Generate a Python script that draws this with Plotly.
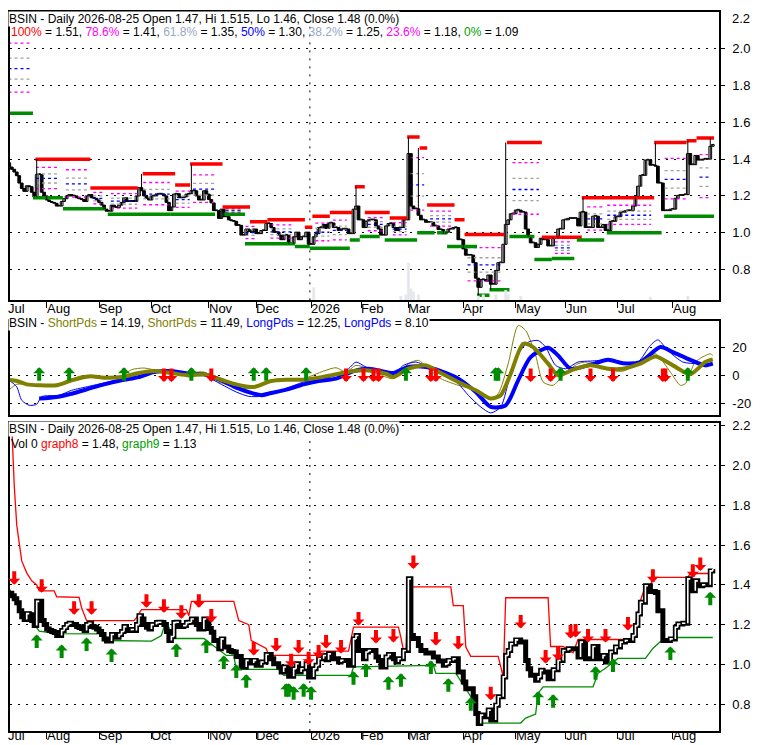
import plotly.graph_objects as go

# trading-day index: 0 = 2025-07-11 ... 282 = 2026-08-25
close = [
    # Jul
    1.357, 1.345, 1.33, 1.31, 1.27, 1.24, 1.225, 1.255, 1.25, 1.22, 1.195, 1.317, 1.317, 1.22, 1.2,
    # Aug
    1.178, 1.17, 1.165, 1.16, 1.145, 1.145, 1.17, 1.185, 1.2, 1.207, 1.2, 1.2, 1.19, 1.185, 1.18,
    1.17, 1.2, 1.207, 1.19, 1.187, 1.178,
    # Sep
    1.165, 1.15, 1.128, 1.117, 1.117, 1.15, 1.14, 1.137, 1.15, 1.165, 1.19, 1.17, 1.17, 1.175, 1.17,
    1.2, 1.245, 1.228, 1.2, 1.187, 1.178,
    # Oct
    1.2, 1.2, 1.21, 1.212, 1.21, 1.2, 1.165, 1.12, 1.14, 1.21, 1.212, 1.19, 1.19, 1.195, 1.21,
    1.212, 1.228, 1.228, 1.2, 1.178, 1.178, 1.228, 1.21,
    # Nov
    1.18, 1.162, 1.12, 1.12, 1.078, 1.128, 1.087, 1.087, 1.07, 1.065, 1.062, 1.04, 1.04, 0.987, 0.987,
    1.02, 1.007, 1.007, 1.02,
    # Dec
    0.995, 0.995, 1.012, 1.012, 1.05, 1.05, 1.028, 1.003, 1.003, 0.987, 0.962, 0.987, 0.987, 0.94, 0.94,
    0.978, 1.003, 0.962, 0.978, 0.978, 1.003, 0.937,
    # Jan
    0.937, 0.978, 0.995, 1.028, 1.028, 1.045, 1.023, 1.053, 1.053, 1.028, 1.028, 1.012, 1.02, 1.02, 1.02,
    0.995, 0.995, 1.128, 1.145, 1.07,
    # Feb
    1.07, 1.028, 1.062, 1.07, 1.07, 1.07, 1.037, 1.02, 0.987, 0.987, 1.037, 1.05, 1.05, 1.028, 1.012,
    1.028, 1.028, 1.07, 1.07,
    # Mar
    1.43, 1.145, 1.13, 1.13, 1.095, 1.07, 1.07, 1.057, 1.057, 1.057, 1.037, 1.037, 1.017, 1.017, 0.995,
    1.003, 1.02, 1.02, 1.028, 1.028, 0.962, 0.962,
    # Apr
    0.912, 0.878, 0.878, 0.878, 0.837, 0.753, 0.703, 0.745, 0.745, 0.737, 0.77, 0.72, 0.72, 0.795, 0.837,
    0.837, 0.937, 1.045, 1.07, 1.103, 1.103,
    # May
    1.123, 1.123, 1.112, 1.112, 1.02, 0.978, 0.945, 0.945, 0.92, 0.937, 0.97, 0.962, 0.962, 0.928, 0.928,
    0.973, 0.973, 1.02, 1.02, 1.07,
    # Jun
    1.07, 1.078, 1.078, 1.078, 1.078, 1.037, 1.112, 1.112, 1.028, 1.028, 1.028, 1.09, 1.09, 1.028, 1.028,
    1.045, 1.012, 1.012, 1.062, 1.062, 1.087,
    # Jul
    1.087, 1.112, 1.112, 1.12, 1.12, 1.12, 1.145, 1.195, 1.253, 1.312, 1.312, 1.395, 1.395, 1.367, 1.367,
    1.362, 1.27, 1.27, 1.12, 1.12, 1.12, 1.128,
    # Aug
    1.128, 1.187, 1.203, 1.203, 1.207, 1.207, 1.43, 1.37, 1.37, 1.42, 1.395, 1.395, 1.4, 1.4, 1.4,
    1.47, 1.48,
]
first_open = 1.38

hi_idx = [0, 11, 53, 73, 139, 160, 164, 199, 230, 259, 272, 281]
hi_val = [1.43, 1.40, 1.32, 1.373, 1.25, 1.52, 1.46, 1.49, 1.19, 1.49, 1.50, 1.515]
lo_idx = [188, 193]
lo_val = [0.66, 0.69]

vol_idx = [122, 157, 159, 160, 161, 162, 164, 188, 190, 195, 199, 200, 205, 257, 272]
vol_val = [4.5, 1.5, 2, 13, 4, 3, 2, 1.5, 2, 2, 3.5, 2, 1.5, 1.2, 1.5]

month_idx = [15, 36, 57, 80, 99, 121, 141, 160, 182, 203, 223, 244, 266]
month_lbl = ['Aug', 'Sep', 'Oct', 'Nov', 'Dec', '2026', 'Feb', 'Mar', 'Apr', 'May', 'Jun', 'Jul', 'Aug']
year_break = 120.5

# resistance (red) and support (green) segments of the top panel
res_x0 = [0, 11, 33, 54, 67, 73, 86, 97, 104, 119, 122, 129, 139, 143, 153, 160, 165, 168, 179, 183, 200, 214, 230, 259, 272, 276]
res_x1 = [1, 32, 51, 66, 72, 85, 96, 103, 118, 121, 128, 137, 142, 152, 159, 164, 167, 178, 182, 198, 213, 229, 258, 271, 275, 282]
res_lvl = [2.135, 1.40, 1.243, 1.32, 1.26, 1.373, 1.14, 1.06, 1.07, 1.03, 1.09, 1.11, 1.25, 1.11, 1.08, 1.52, 1.46, 1.15, 1.07, 0.99, 1.49, 0.975, 1.19, 1.49, 1.50, 1.515]
sup_x0 = [0, 10, 22, 40, 65, 86, 95, 115, 121, 137, 141, 151, 164, 172, 176, 188, 193, 201, 211, 218, 228, 240, 263]
sup_x1 = [9, 21, 38, 64, 82, 94, 114, 120, 136, 140, 148, 163, 170, 175, 187, 192, 200, 210, 217, 226, 238, 261, 282]
sup_lvl = [1.65, 1.19, 1.13, 1.10, 1.10, 1.10, 0.94, 0.925, 0.915, 0.96, 0.98, 0.96, 1.00, 1.00, 0.925, 0.66, 0.69, 0.98, 0.855, 0.86, 0.96, 1.00, 1.09]

fib_x0 = [0, 11, 23, 34, 41, 54, 67, 74, 87, 95, 105, 123, 130, 144, 154, 161, 169, 184, 202, 219, 232, 240, 263, 277]
fib_x1 = [8, 19, 32, 38, 51, 64, 72, 82, 93, 99, 114, 128, 135, 150, 159, 166, 177, 197, 212, 225, 238, 257, 271, 281]
fib_hi = [2.135, 1.40, 1.40, 1.243, 1.243, 1.32, 1.26, 1.373, 1.14, 1.06, 1.07, 1.09, 1.11, 1.11, 1.08, 1.52, 1.15, 0.99, 1.49, 0.975, 1.19, 1.19, 1.49, 1.515]
fib_lo = [1.65, 1.19, 1.13, 1.13, 1.10, 1.10, 1.10, 1.10, 1.10, 0.94, 0.94, 0.915, 0.915, 0.98, 0.96, 1.00, 1.00, 0.66, 0.98, 0.86, 0.96, 1.00, 1.09, 1.09]
fib_ratio = [0.786, 0.618, 0.5, 0.382, 0.236]
fib_color = ['#ff00ff', '#a0a0a0', '#0000ff', '#a0a0a0', '#ff00ff']

# oscillator panel
sh_thin_x = [0, 3, 7, 15, 23, 28, 32, 38, 45, 49, 54, 60, 65, 69, 78, 84, 91, 97, 103, 111, 118, 126, 131, 135, 139, 144, 151, 154, 160, 164,
             168, 173, 180, 187, 193, 196, 200, 204, 207, 211, 214, 218, 222, 228, 233, 238, 246, 254, 259, 265, 269, 271, 275, 281, 282]
sh_thin_y = [-10, -6.2, -6.2, -6.9, -5.2, -0.5, 0.2, -2.1, -0.5, 4.3, 5.5, 3.3, 1, 1, 2.6, -4.5, -8.1, -9.3, -5.2, -3.3, -2.1, 3.3, 5.7, 2.6, 7.4, 5, -1, -2.1, 8.6, 11,
             5, -2.1, -6.9, -10.5, -16.4, -12.9, 8.6, 36, 32.4, 14.5, -4.5, -6.9, 0.2, 8.6, 9.8, 5, 3.3, 11, 15.7, 2.6, -6.9, -5.7, 9.8, 15.7, 14.5]
sh_thick_x = [0, 3, 7, 12, 19, 25, 32, 38, 45, 52, 58, 65, 72, 78, 85, 91, 98, 105, 111, 118, 124, 131, 138, 144, 151, 154, 160, 167, 173, 180,
              187, 193, 197, 201, 206, 210, 216, 220, 226, 233, 240, 246, 253, 259, 266, 273, 279, 282]
sh_thick_y = [-3, -3.8, -6.2, -6.9, -6.9, -3.3, -0.5, -1.4, -1, 1.9, 3.3, 1.9, 0.2, 1, -2.9, -6.2, -8.1, -3.8, -2.9, -2.9, -1.4, 1, 3.3, 3.8, 1.4, -1, 5, 7.4, 1.9, -4.5,
              -10.5, -16.4, -14, 1.4, 22.9, 20.5, 8.6, 0.2, 4.3, 7.4, 5, 5, 8.6, 13.8, 7.4, 1, 9.8, 11.7]
lg_thin_x = [0, 3, 5, 8, 11, 13, 20, 25, 32, 38, 45, 52, 58, 65, 72, 78, 85, 91, 96, 101, 105, 111, 118, 124, 131, 136, 139, 143, 150, 154,
             158, 163, 168, 174, 180, 184, 189, 193, 197, 201, 205, 208, 212, 215, 219, 223, 228, 233, 240, 246, 252, 257, 260, 264, 270, 276, 282]
lg_thin_y = [-3.3, -8, -17.6, -21.2, -20.5, -15, -14, -10.5, -7.6, -5.2, -2.4, 1, 3.3, 2.6, 1, 0.2, -6.2, -11.7, -14.8, -14.8, -12.9, -9.3, -4.5, -2.9, 0.2, 5, 9.8, 6.2, 2.6, 1,
             7.4, 9.8, 6.2, 1.4, -5.7, -14, -22.4, -26.7, -22.4, 1.4, 18.1, 24, 25.2, 20.5, 7.4, 5, 9.8, 10.5, 11, 8.6, 9.8, 21.7, 25.7, 18.1, 9.8, 8.6, 9]
lg_thick_x = [12, 19, 25, 32, 38, 45, 52, 58, 65, 72, 78, 85, 91, 98, 101, 105, 111, 118, 124, 131, 138, 144, 151, 154, 160, 167, 173, 180, 187, 193,
              199, 204, 209, 216, 220, 225, 233, 240, 246, 253, 261, 266, 273, 279, 282]
lg_thick_y = [-16.4, -15.2, -12.9, -9.3, -6.2, -3.3, -1, 2.6, 3.3, 1.4, 1, -3.3, -8.6, -12.9, -14, -12.4, -10, -6.2, -3.8, -2.1, 3.3, 5, 2.6, 1.9, 6.2, 6.2, 3.3, -2.1, -11.7, -22.4,
              -21.2, -3.3, 13.3, 20, 14.5, 5, 7.9, 11.4, 9, 9.8, 20.5, 16.9, 11.4, 7.4, 8.6]
mid_up_idx = [12, 24, 46, 73, 98, 103, 119, 159, 195, 196, 221, 272]
mid_dn_idx = [62, 65, 81, 135, 142, 146, 148, 169, 171, 209, 217, 233, 242, 262, 263]

# bottom panel trailing lines and signals
stop_x = [1, 2, 3, 5, 7, 9, 11, 12, 18, 19, 28, 29, 31, 50, 51, 53, 71, 72, 73, 90, 92, 96, 97, 103, 104, 124, 125, 136, 138, 156,
          157, 158, 159, 160, 177, 178, 182, 183, 185, 196, 198, 199, 216, 217, 222, 224, 226, 228, 249, 250, 252, 253, 255, 257, 258, 272,
          273, 281, 282]
stop_y = [2.2, 1.9, 1.7, 1.52, 1.46, 1.42, 1.40, 1.37, 1.37, 1.34, 1.337, 1.285, 1.22, 1.22, 1.235, 1.275, 1.275, 1.245, 1.317, 1.317, 1.22, 1.2, 1.12, 1.08, 1.045, 1.045, 1.067, 1.067, 1.187, 1.187,
          1.135, 1.07, 1.07, 1.39, 1.39, 1.295, 1.295, 1.087, 1.04, 1.04, 0.937, 1.335, 1.335, 1.09, 1.09, 1.075, 1.058, 1.125, 1.125, 1.14, 1.253, 1.32, 1.395, 1.395, 1.437, 1.437,
          1.457, 1.457, 1.48]
floor_x = [0, 3, 4, 9, 10, 12, 19, 37, 38, 57, 61, 62, 64, 65, 78, 87, 90, 91, 108, 110, 137, 138, 170, 171, 179, 183, 187, 189, 205, 207,
           211, 212, 214, 234, 236, 239, 244, 255, 258, 261, 264, 267, 282]
floor_y = [1.38, 1.31, 1.262, 1.262, 1.2, 1.167, 1.155, 1.153, 1.12, 1.117, 1.145, 1.187, 1.187, 1.13, 1.13, 1.045, 1.045, 0.975, 0.975, 0.945, 0.945, 0.987, 0.995, 0.955, 0.955, 0.88, 0.8, 0.705, 0.705, 0.73,
           0.75, 0.855, 0.887, 0.887, 0.955, 0.98, 1.03, 1.03, 1.08, 1.115, 1.123, 1.135, 1.135]
bot_dn_idx = [2, 13, 26, 33, 55, 62, 69, 76, 81, 98, 107, 113, 116, 120, 124, 127, 133, 140, 147, 154, 162, 171, 180, 193, 205, 215, 220, 225, 227, 232, 239, 248, 258, 274, 277]
bot_dn_val = [1.40, 1.36, 1.25, 1.25, 1.285, 1.26, 1.23, 1.285, 1.21, 1.045, 1.065, 0.985, 1.055, 0.995, 1.03, 1.08, 1.055, 1.195, 1.105, 1.11, 1.48, 1.095, 1.075, 0.82, 1.18, 1.005, 1.02, 1.13, 1.135, 1.11, 1.11, 1.17, 1.41, 1.435, 1.47]
bot_up_idx = [11, 21, 31, 41, 67, 79, 86, 91, 95, 111, 112, 114, 118, 121, 138, 143, 152, 157, 169, 176, 185, 189, 212, 218, 235, 242, 265, 281]
bot_up_val = [1.15, 1.10, 1.135, 1.08, 1.105, 1.125, 1.045, 1.0, 0.95, 0.905, 0.905, 0.89, 0.905, 0.89, 0.965, 1.005, 0.94, 0.955, 1.02, 0.93, 0.835, 0.66, 0.865, 0.85, 0.99, 1.03, 1.09, 1.365]

RED = '#ff0000'
GREEN = '#008c00'
OLIVE = '#808000'
BLUE = '#0000ff'
FONT = 'Liberation Sans, Arial, sans-serif'

# the page puts the figure 8px in from the window corner; positions below are window pixels
OFF = 8
PW, PH = 711.0, 723.0


def sx(p):
    return (p - OFF) / PW


def sy(q):
    return 1 - (q - OFF) / PH


n = len(close)
idx = list(range(n))
opens = [first_open] + close[:-1]
highs = [max(o, c) for o, c in zip(opens, close)]
lows = [min(o, c) for o, c in zip(opens, close)]
for i, v in zip(hi_idx, hi_val):
    highs[i] = v
for i, v in zip(lo_idx, lo_val):
    lows[i] = v

fig = go.Figure()

# faint volume
fig.add_trace(go.Bar(x=vol_idx, y=vol_val, width=1.0, marker_color='#e6e6e6',
                     xaxis='x', yaxis='y4', hoverinfo='skip'))

# fib levels
for r, col in zip(fib_ratio, fib_color):
    xs, ys = [], []
    for a, b, h, l in zip(fib_x0, fib_x1, fib_hi, fib_lo):
        lv = l + r * (h - l)
        xs += [a - 0.3, b + 0.3, None]
        ys += [lv, lv, None]
    fig.add_trace(go.Scatter(x=xs, y=ys, mode='lines', line=dict(color=col, width=1.3, dash='3px,3px'),
                             xaxis='x', yaxis='y', hoverinfo='skip'))

# support / resistance
for x0s, x1s, lv, col in [(res_x0, res_x1, res_lvl, RED), (sup_x0, sup_x1, sup_lvl, GREEN)]:
    xs, ys = [], []
    for a, b, v in zip(x0s, x1s, lv):
        xs += [a - 0.5, b + 0.5, None]
        ys += [v, v, None]
    fig.add_trace(go.Scatter(x=xs, y=ys, mode='lines', line=dict(color=col, width=3.5),
                             xaxis='x', yaxis='y', hoverinfo='skip'))

# candles
wx, wy = [], []
for i in idx:
    wx += [i, i, None]
    wy += [lows[i], highs[i], None]
fig.add_trace(go.Scatter(x=wx, y=wy, mode='lines', line=dict(color='black', width=1),
                         xaxis='x', yaxis='y', hoverinfo='skip'))
for up in (True, False):
    sel = [i for i in idx if (close[i] >= opens[i]) == up]
    fig.add_trace(go.Bar(
        x=sel,
        base=[min(opens[i], close[i]) for i in sel],
        y=[max(abs(close[i] - opens[i]), 0.004) for i in sel],
        width=1.1,
        marker=dict(color='white' if up else 'black', line=dict(color='black', width=1)),
        xaxis='x', yaxis='y', hoverinfo='skip'))

# oscillators
fig.add_trace(go.Scatter(x=sh_thin_x, y=sh_thin_y, mode='lines', line=dict(color=OLIVE, width=1, shape='spline', smoothing=0.7),
                         xaxis='x2', yaxis='y2', hoverinfo='skip'))
fig.add_trace(go.Scatter(x=lg_thin_x, y=lg_thin_y, mode='lines', line=dict(color=BLUE, width=1, shape='spline', smoothing=0.7),
                         xaxis='x2', yaxis='y2', hoverinfo='skip'))
fig.add_trace(go.Scatter(x=lg_thick_x, y=lg_thick_y, mode='lines', line=dict(color=BLUE, width=4, shape='spline', smoothing=0.7),
                         xaxis='x2', yaxis='y2', hoverinfo='skip'))
fig.add_trace(go.Scatter(x=sh_thick_x, y=sh_thick_y, mode='lines', line=dict(color=OLIVE, width=4, shape='spline', smoothing=0.7),
                         xaxis='x2', yaxis='y2', hoverinfo='skip'))

# bottom panel
fig.add_trace(go.Scatter(x=stop_x, y=stop_y, mode='lines', line=dict(color=RED, width=1.3),
                         xaxis='x3', yaxis='y3', hoverinfo='skip'))
fig.add_trace(go.Scatter(x=floor_x, y=floor_y, mode='lines', line=dict(color=GREEN, width=1.3),
                         xaxis='x3', yaxis='y3', hoverinfo='skip'))
fig.add_trace(go.Scatter(x=idx, y=close, mode='lines', line=dict(color='black', width=5, shape='hv'),
                         xaxis='x3', yaxis='y3', hoverinfo='skip'))
hx, hy = [], []
for i in range(1, n):
    if close[i] > close[i - 1]:
        hx += [i, i, min(i + 1, n - 1), None]
        hy += [close[i - 1], close[i], close[i], None]
fig.add_trace(go.Scatter(x=hx, y=hy, mode='lines', line=dict(color='white', width=1.6),
                         xaxis='x3', yaxis='y3', hoverinfo='skip'))

ann = []


def arrow(x, y, xref, yref, up):
    ann.append(dict(x=x, y=y, xref=xref, yref=yref, text='', showarrow=True,
                    ax=0, ay=15 if up else -15, arrowhead=1, arrowsize=0.5, arrowwidth=4,
                    arrowcolor=GREEN if up else RED))


for i in mid_up_idx:
    arrow(i, 6, 'x2', 'y2', True)
for i in mid_dn_idx:
    arrow(i, -4.5, 'x2', 'y2', False)
for i, v in zip(bot_up_idx, bot_up_val):
    arrow(i, v, 'x3', 'y3', True)
for i, v in zip(bot_dn_idx, bot_dn_val):
    arrow(i, v, 'x3', 'y3', False)


def label(text, x, y, bg=None, size=12):
    d = dict(text=text, x=sx(x), y=sy(y), xref='paper', yref='paper', xanchor='left', yanchor='middle',
             showarrow=False, font=dict(family=FONT, size=size, color='black'), borderpad=0)
    if bg:
        d['bgcolor'] = bg
    ann.append(d)


daily = 'BSIN - Daily 2026-08-25 Open 1.47, Hi 1.515, Lo 1.46, Close 1.48 (0.0%)'
label(daily, 6, 15, 'white')
label("<span style='color:#ff0000'>100%</span> = 1.51, <span style='color:#ff00ff'>78.6%</span> = 1.41, "
      "<span style='color:#98a8c8'>61.8%</span> = 1.35, <span style='color:#0000ff'>50%</span> = 1.30, "
      "<span style='color:#98a8c8'>38.2%</span> = 1.25, <span style='color:#ff00ff'>23.6%</span> = 1.18, "
      "<span style='color:#00a000'>0%</span> = 1.09", 8, 28)
label("BSIN - <span style='color:#808000'>ShortPds</span> = 14.19, <span style='color:#808000'>ShortPds</span> = 11.49, "
      "<span style='color:#0000ff'>LongPds</span> = 12.25, <span style='color:#0000ff'>LongPds</span> = 8.10", 6, 321, 'white')
label(daily, 6, 427, 'white')
label("Vol 0 <span style='color:#ff0000'>graph8</span> = 1.48, <span style='color:#00a000'>graph9</span> = 1.13", 8, 442)
label('2.2', 731, 15, size=13)

for yy in (306, 736):
    label('Jul', 5, yy, size=13)
    for m, t in zip(month_idx, month_lbl):
        ann.append(dict(text=t, x=m, y=sy(yy), xref='x', yref='paper', xanchor='left', yanchor='middle',
                        xshift=-2, showarrow=False, font=dict(family=FONT, size=13, color='black')))

dots = '2px,6px'
xcommon = dict(range=[0.3, 284.5], showline=True, mirror=True, linecolor='black', linewidth=1.5,
               showgrid=False, zeroline=False, showticklabels=False, fixedrange=True)
ycommon = dict(side='right', showline=True, mirror=True, linecolor='black', linewidth=1.5,
               showgrid=True, gridcolor='black', gridwidth=1, griddash=dots, zeroline=False,
               ticks='outside', ticklen=4, tickcolor='black', ticklabelstandoff=5,
               tickfont=dict(family=FONT, size=13, color='black'), fixedrange=True)

pr_ticks = [0.8, 1.0, 1.2, 1.4, 1.6, 1.8, 2.0, 2.2]
pr_text = ['0.8', '1.0', '1.2', '1.4', '1.6', '1.8', '2.0', '2.2']

fig.update_layout(
    width=780, height=745,
    margin=dict(l=0, r=69, t=0, b=22),
    paper_bgcolor='white', plot_bgcolor='white',
    showlegend=False, barmode='overlay', hovermode=False,
    font=dict(family=FONT, size=12, color='black'),
    xaxis=dict(xcommon, anchor='y', ticks='outside', tickvals=month_idx, ticklen=6, tickcolor='black'),
    xaxis2=dict(xcommon, anchor='y2', matches='x'),
    xaxis3=dict(xcommon, anchor='y3', matches='x', ticks='outside', tickvals=month_idx, ticklen=6, tickcolor='black'),
    yaxis=dict(ycommon, domain=[1 - 290 / PH, 1.0], range=[0.632, 2.2], tickvals=pr_ticks[:-1], ticktext=pr_text[:-1], anchor='x'),
    yaxis2=dict(ycommon, domain=[1 - 405 / PH, 1 - 311 / PH], range=[-28, 39], tickvals=[-20, 0, 20], ticktext=['-20', '0', '20'], anchor='x2'),
    yaxis3=dict(ycommon, domain=[0.0, 1 - 413 / PH], range=[0.665, 2.215], tickvals=pr_ticks, ticktext=pr_text, anchor='x3'),
    yaxis4=dict(domain=[1 - 290 / PH, 1.0], range=[0, 100], overlaying='y', visible=False, fixedrange=True),
    annotations=ann,
    shapes=[
        dict(type='line', xref='x', yref='y domain', x0=year_break, x1=year_break, y0=0, y1=1,
             line=dict(color='black', width=1, dash=dots), layer='below'),
        dict(type='line', xref='x3', yref='y3 domain', x0=year_break, x1=year_break, y0=0, y1=1,
             line=dict(color='black', width=1, dash=dots), layer='below'),
    ],
)

fig.write_html("out.html")
